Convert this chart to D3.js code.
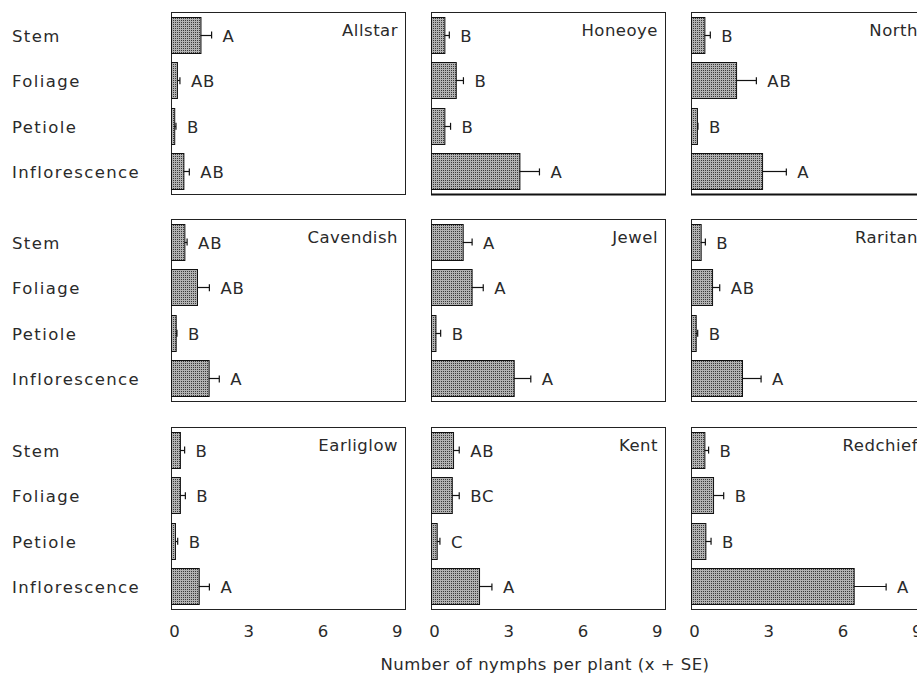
<!DOCTYPE html>
<html>
<head>
<meta charset="utf-8">
<script src="https://cdn.jsdelivr.net/npm/d3@7"></script>
<style>
  html, body { margin: 0; padding: 0; background: #fff; }
  svg { display: block; }
  text { font-family: "DejaVu Sans", Verdana, sans-serif; fill: #2a2a2a; }
</style>
</head>
<body>
<svg id="chart" width="917" height="681"></svg>
<script>
// Strawberry cultivars, one panel each (row by row)
const cultivars = ["Allstar", "Honeoye", "North", "Cavendish", "Jewel", "Raritan", "Earliglow", "Kent", "Redchief"];
const plantParts = ["Stem", "Foliage", "Petiole", "Inflorescence"];
const xTicks = [0, 3, 6, 9];

// Mean nymphs per plant for Stem, Foliage, Petiole, Inflorescence
const meanAllstar   = [1.19, 0.24, 0.13, 0.50];
const meanHoneoye   = [0.54, 1.00, 0.54, 3.57];
const meanNorth     = [0.54, 1.82, 0.24, 2.87];
const meanCavendish = [0.54, 1.05, 0.19, 1.52];
const meanJewel     = [1.28, 1.64, 0.18, 3.34];
const meanRaritan   = [0.39, 0.85, 0.19, 2.06];
const meanEarliglow = [0.36, 0.36, 0.16, 1.12];
const meanKent      = [0.89, 0.84, 0.23, 1.94];
const meanRedchief  = [0.54, 0.89, 0.58, 6.57];

// Standard errors
const seAllstar   = [0.45, 0.12, 0.07, 0.24];
const seHoneoye   = [0.20, 0.31, 0.25, 0.81];
const seNorth     = [0.24, 0.82, 0.04, 0.98];
const seCavendish = [0.11, 0.50, 0.05, 0.43];
const seJewel     = [0.38, 0.47, 0.21, 0.69];
const seRaritan   = [0.19, 0.31, 0.08, 0.77];
const seEarliglow = [0.19, 0.22, 0.11, 0.43];
const seKent      = [0.25, 0.30, 0.13, 0.52];
const seRedchief  = [0.17, 0.43, 0.23, 1.31];

// Mean separation letters
const grpAllstar   = ["A", "AB", "B", "AB"];
const grpHoneoye   = ["B", "B", "B", "A"];
const grpNorth     = ["B", "AB", "B", "A"];
const grpCavendish = ["AB", "AB", "B", "A"];
const grpJewel     = ["A", "A", "B", "A"];
const grpRaritan   = ["B", "AB", "B", "A"];
const grpEarliglow = ["B", "B", "B", "A"];
const grpKent      = ["AB", "BC", "C", "A"];
const grpRedchief  = ["B", "B", "B", "A"];

const means = [meanAllstar, meanHoneoye, meanNorth, meanCavendish, meanJewel, meanRaritan, meanEarliglow, meanKent, meanRedchief];
const ses = [seAllstar, seHoneoye, seNorth, seCavendish, seJewel, seRaritan, seEarliglow, seKent, seRedchief];
const groups = [grpAllstar, grpHoneoye, grpNorth, grpCavendish, grpJewel, grpRaritan, grpEarliglow, grpKent, grpRedchief];

const svg = d3.select("#chart");

// Stippled fill for the bars: a dark dot in every 2x2 cell
const defs = svg.append("defs");
const pat = defs.append("pattern")
  .attr("id", "stipple").attr("patternUnits", "userSpaceOnUse")
  .attr("width", 2).attr("height", 2);
pat.append("rect").attr("width", 2).attr("height", 2).attr("fill", "#b2b2b2");
pat.append("rect").attr("x", 0).attr("y", 0).attr("width", 1).attr("height", 1).attr("fill", "#3a3a3a");

// Panel grid
const panelW = 234, panelH = 182;
const colX = [171, 431, 691];
const rowY = [12, 219, 427];
const fontSize = 16.5;

const x = d3.scaleLinear().domain([0, 9.45]).range([0, panelW]);
const y = d3.scaleBand().domain(plantParts).range([0, panelH]).paddingInner(0.21).paddingOuter(0.1);

cultivars.forEach((name, i) => {
  const r = Math.floor(i / 3), c = i % 3;
  const g = svg.append("g").attr("transform", `translate(${colX[c]},${rowY[r]})`);

  const rows = plantParts.map((p, k) => ({ part: p, mean: means[i][k], se: ses[i][k], grp: groups[i][k] }));

  // frame
  g.append("rect")
    .attr("x", 0.5).attr("y", 0.5).attr("width", panelW).attr("height", panelH)
    .attr("fill", "#fff").attr("stroke", "#222").attr("stroke-width", 1);
  if (r === 0 && c > 0) {
    // heavier baseline on the upper right-hand panels
    g.append("line")
      .attr("x1", 0).attr("x2", panelW + 1)
      .attr("y1", panelH + 0.5).attr("y2", panelH + 0.5)
      .attr("stroke", "#111").attr("stroke-width", 2.2);
  }

  // bars
  g.selectAll("rect.bar").data(rows).join("rect")
    .attr("class", "bar")
    .attr("x", x(0) + 0.5)
    .attr("y", d => Math.round(y(d.part)) + 0.5)
    .attr("width", d => x(d.mean))
    .attr("height", Math.round(y.bandwidth()))
    .attr("fill", "url(#stipple)")
    .attr("stroke", "#111").attr("stroke-width", 1);

  // error bars (mean + SE)
  const eb = g.selectAll("g.err").data(rows).join("g").attr("class", "err");
  eb.append("line")
    .attr("x1", d => x(d.mean)).attr("x2", d => x(d.mean + d.se))
    .attr("y1", d => Math.round(y(d.part) + y.bandwidth() / 2) + 0.5)
    .attr("y2", d => Math.round(y(d.part) + y.bandwidth() / 2) + 0.5)
    .attr("stroke", "#111").attr("stroke-width", 1.2);
  eb.append("line")
    .attr("x1", d => x(d.mean + d.se)).attr("x2", d => x(d.mean + d.se))
    .attr("y1", d => y(d.part) + y.bandwidth() / 2 - 3)
    .attr("y2", d => y(d.part) + y.bandwidth() / 2 + 4)
    .attr("stroke", "#111").attr("stroke-width", 1.2);

  // significance letters
  g.selectAll("text.grp").data(rows).join("text")
    .attr("class", "grp")
    .attr("x", d => x(d.mean + d.se) + 11)
    .attr("y", d => y(d.part) + y.bandwidth() / 2 + 1)
    .attr("dy", "0.36em")
    .attr("font-size", fontSize)
    .attr("letter-spacing", 0.8)
    .text(d => d.grp);

  // cultivar name
  g.append("text")
    .attr("x", panelW - 7).attr("y", 18)
    .attr("dy", "0.36em")
    .attr("text-anchor", "end")
    .attr("font-size", fontSize)
    .attr("letter-spacing", 0.5)
    .text(name);

  // plant part labels for the first column
  if (c === 0) {
    svg.selectAll(null).data(rows).join("text")
      .attr("x", 12)
      .attr("y", d => rowY[r] + y(d.part) + y.bandwidth() / 2 + 1)
      .attr("dy", "0.36em")
      .attr("font-size", fontSize)
      .attr("letter-spacing", 1.4)
      .text(d => d.part);
  }

  // x axis labels under the bottom row
  if (r === 2) {
    const ax = d3.axisBottom(x).tickValues(xTicks).tickSize(0).tickPadding(16).tickFormat(d3.format("d"));
    const axg = g.append("g").attr("transform", `translate(3,${panelH})`).call(ax);
    axg.select(".domain").remove();
    axg.selectAll("text").attr("font-size", fontSize).attr("font-family", "DejaVu Sans, Verdana, sans-serif").attr("fill", "#2a2a2a");
  }
});

// axis title
svg.append("text")
  .attr("x", 545).attr("y", 664)
  .attr("dy", "0.36em")
  .attr("text-anchor", "middle")
  .attr("font-size", fontSize)
  .attr("letter-spacing", 0.5)
  .text("Number of nymphs per plant (x + SE)");
</script>
</body>
</html>
